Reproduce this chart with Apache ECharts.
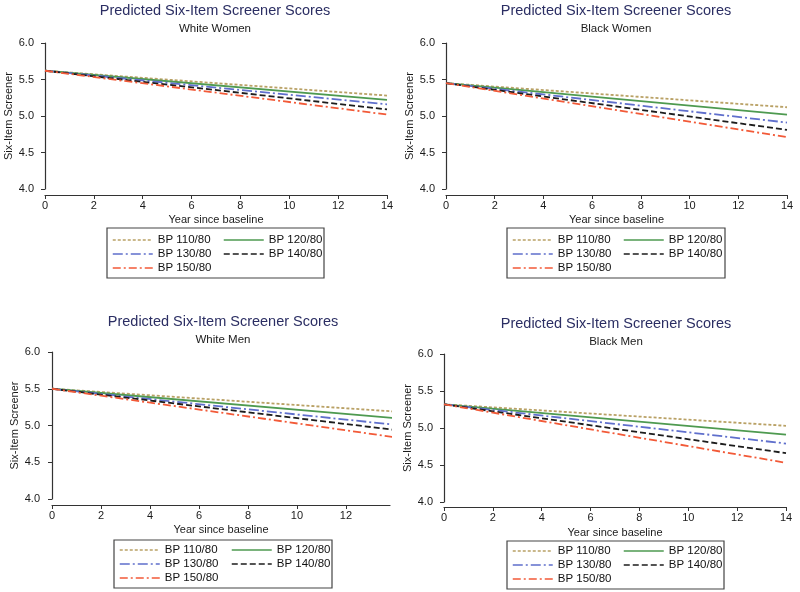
<!DOCTYPE html>
<html>
<head>
<meta charset="utf-8">
<script src="https://cdn.jsdelivr.net/npm/echarts@6/dist/echarts.min.js"></script>
<style>
  html, body { margin: 0; padding: 0; background: #fff; }
  #chart { width: 800px; height: 592px; }
</style>
</head>
<body>
<div id="chart"></div>
<script>
// ── Data ─────────────────────────────────────────────────────────────────
const years = [0, 14];
const bpLabels = ['BP 110/80', 'BP 120/80', 'BP 130/80', 'BP 140/80', 'BP 150/80'];
const panelTitles = ['White Women', 'Black Women', 'White Men', 'Black Men'];

// score at year 0 and year 14, one pair per BP level
const whiteWomen = [[5.62, 5.28], [5.62, 5.22], [5.62, 5.16], [5.62, 5.09], [5.62, 5.02]];
const blackWomen = [[5.45, 5.12], [5.45, 5.02], [5.45, 4.91], [5.45, 4.81], [5.45, 4.71]];
const whiteMen   = [[5.50, 5.19], [5.50, 5.10], [5.50, 5.01], [5.50, 4.94], [5.50, 4.84]];
const blackMen   = [[5.32, 5.03], [5.32, 4.91], [5.32, 4.79], [5.32, 4.66], [5.32, 4.53]];

// ── Styles ───────────────────────────────────────────────────────────────
const FONT = 'Liberation Sans, Arial, sans-serif';
const lineStyles = [
  { color: '#b9a165', type: [3, 2] },
  { color: '#4e9a50', type: 'solid' },
  { color: '#5f6fcc', type: [10, 3, 2, 3] },
  { color: '#1c1c1c', type: [6, 3] },
  { color: '#f25a38', type: [8, 3, 2, 3] },
];

// layout per panel: grid box, title centre, legend box
const panels = [
  { data: whiteWomen, grid: { left: 45, top: 43, width: 342, height: 146 }, xMax: 14,
    titleX: 215, titleY: 3, yOff: 5, xOff: 6, nameGap: 19,
    box: [107, 228, 217, 50], leg: [112, 223, 233] },
  { data: blackWomen, grid: { left: 446, top: 43, width: 341, height: 146 }, xMax: 14,
    titleX: 616, titleY: 3, yOff: 5, xOff: 6, nameGap: 19,
    box: [507, 228, 218, 50], leg: [512, 623, 233] },
  { data: whiteMen, grid: { left: 52, top: 352, width: 338, height: 147 }, xMax: 13.8,
    titleX: 223, titleY: 314, yOff: 6, xOff: 6, nameGap: 19,
    box: [114, 540, 218, 48], leg: [119, 231, 543] },
  { data: blackMen, grid: { left: 444, top: 354, width: 342, height: 148 }, xMax: 14,
    titleX: 616, titleY: 316, yOff: 5, xOff: 5, nameGap: 20,
    box: [507, 541, 217, 48], leg: [512, 623, 544] },
];

const axisCol = '#333';
const title = [], grid = [], xAxis = [], yAxis = [], series = [], legend = [], graphic = [];

panels.forEach((p, gi) => {
  title.push({
    text: 'Predicted Six-Item Screener Scores',
    subtext: panelTitles[gi],
    left: p.titleX, top: p.titleY, textAlign: 'center', itemGap: 5, padding: 0,
    textStyle: { fontFamily: FONT, fontSize: 14.5, fontWeight: 'normal', color: '#2b2e63' },
    subtextStyle: { fontFamily: FONT, fontSize: 11.5, color: '#1a1a1a' },
  });
  grid.push(p.grid);
  xAxis.push({
    gridIndex: gi, type: 'value', min: 0, max: p.xMax, interval: 2, offset: p.xOff,
    name: 'Year since baseline', nameLocation: 'middle', nameGap: p.nameGap,
    nameTextStyle: { fontFamily: FONT, fontSize: 11, color: '#1a1a1a' },
    axisLine: { show: true, lineStyle: { color: axisCol, width: 1.2 } },
    axisTick: { show: true, length: 4, lineStyle: { color: axisCol } },
    axisLabel: { fontFamily: FONT, fontSize: 11, color: '#1a1a1a', margin: 5, showMaxLabel: p.xMax === 14 },
    splitLine: { show: false },
  });
  yAxis.push({
    gridIndex: gi, type: 'value', min: 4, max: 6, interval: 0.5, offset: p.yOff,
    name: 'Six-Item Screener', nameLocation: 'middle', nameGap: 24,
    nameTextStyle: { fontFamily: FONT, fontSize: 11, color: '#1a1a1a' },
    axisLine: { show: true, lineStyle: { color: axisCol, width: 1.2 } },
    axisTick: { show: true, length: 4, lineStyle: { color: axisCol } },
    axisLabel: { fontFamily: FONT, fontSize: 11, color: '#1a1a1a', margin: 6, formatter: v => v.toFixed(1) },
    splitLine: { show: false },
  });
  bpLabels.forEach((name, si) => {
    series.push({
      name, type: 'line', xAxisIndex: gi, yAxisIndex: gi,
      symbol: 'none', silent: true, animation: false,
      data: years.map((yr, k) => [yr, p.data[si][k]]),
      lineStyle: { color: lineStyles[si].color, type: lineStyles[si].type, width: 1.8 },
      itemStyle: { color: lineStyles[si].color },
    });
  });
  const legBase = {
    orient: 'vertical', top: p.leg[2], itemWidth: 40, itemHeight: 14, itemGap: 0,
    padding: 0, selectedMode: false,
    itemStyle: { opacity: 0 },
    lineStyle: { width: 1.5 },
    textStyle: { fontFamily: FONT, fontSize: 11.5, color: '#111', lineHeight: 14 },
  };
  legend.push({ ...legBase, left: p.leg[0], data: [bpLabels[0], bpLabels[2], bpLabels[4]] });
  legend.push({ ...legBase, left: p.leg[1], data: [bpLabels[1], bpLabels[3]] });
  graphic.push({
    type: 'rect', shape: { x: p.box[0], y: p.box[1], width: p.box[2], height: p.box[3] },
    style: { fill: 'none', stroke: '#444', lineWidth: 1.2 }, silent: true,
  });
});

const chart = echarts.init(document.getElementById('chart'), null, { renderer: 'canvas' });
chart.setOption({
  animation: false,
  backgroundColor: '#fff',
  title, grid, xAxis, yAxis, series, legend, graphic,
});
</script>
</body>
</html>
